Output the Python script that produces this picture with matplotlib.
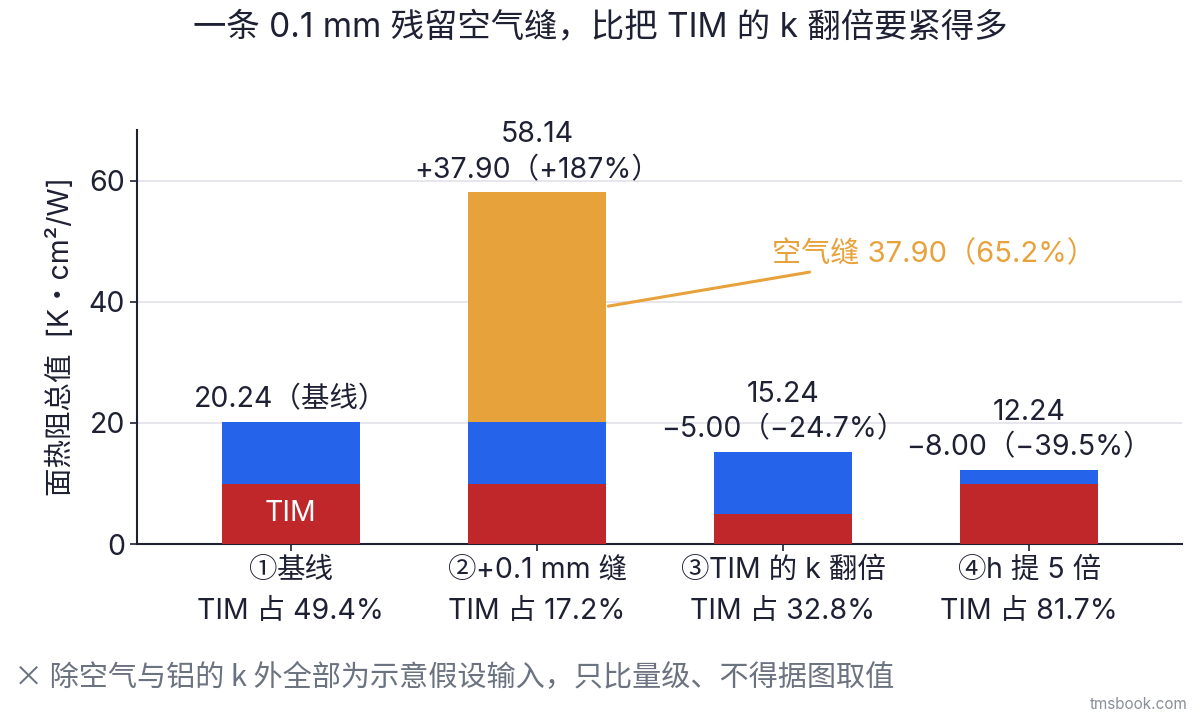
import matplotlib
matplotlib.use("Agg")
import matplotlib.pyplot as plt
from matplotlib.offsetbox import TextArea, HPacker, VPacker, AnnotationBbox
import numpy as np

plt.rcParams['font.family'] = ['Inter', 'Noto Sans CJK SC', 'DejaVu Sans']

# Data
categories = ["①基线", "②+0.1 mm 缝", "③TIM 的 k 翻倍", "④h 提 5 倍"]
tim_share = ["49.4%", "17.2%", "32.8%", "81.7%"]
tim_vals = [10.0, 10.0, 5.0, 10.0]
other_vals = [10.24, 10.24, 10.24, 2.24]
air_vals = [0.0, 37.90, 0.0, 0.0]
totals = [20.24, 58.14, 15.24, 12.24]
top_labels = ["20.24（基线）", "58.14\n+37.90（+187%）",
              "15.24\n−5.00（−24.7%）", "12.24\n−8.00（−39.5%）"]

c_tim = "#C0272A"
c_other = "#2563EB"
c_air = "#E8A23B"
c_text = "#1E2033"
c_grey = "#6B7280"
fs = 20.5

fig = plt.figure(figsize=(12, 7.2), dpi=100)
ax = fig.add_axes([0.114, 0.2444, 0.871, 0.575])

x = np.arange(len(categories))
w = 0.56
ax.bar(x, tim_vals, w, color=c_tim, zorder=3)
ax.bar(x, other_vals, w, bottom=tim_vals, color=c_other, zorder=3)
ax.bar(x, air_vals, w, bottom=np.add(tim_vals, other_vals), color=c_air, zorder=3)

# labels above bars
for xi, t, lab in zip(x, totals, top_labels):
    ax.annotate(lab, (xi, t), xytext=(0, 6), textcoords="offset points",
                ha="center", va="bottom", fontsize=fs, color=c_text,
                linespacing=1.4)

ax.text(x[0], tim_vals[0] / 2, "TIM", ha="center", va="center",
        color="white", fontsize=fs, zorder=4)

# air gap callout
air_pct = air_vals[1] / totals[1] * 100
ax.annotate(f"空气缝 {air_vals[1]:.2f}（{air_pct:.1f}%）",
            xy=(x[1] + w / 2 + 0.01, 39.3), xytext=(1.955, 45.5),
            ha="left", va="bottom", fontsize=21, color=c_air,
            arrowprops=dict(arrowstyle="-", color=c_air, lw=2.2,
                            relpos=(0.18, 0.0), shrinkA=3, shrinkB=0))

ax.set_xlim(-0.626, 3.622)
ax.set_ylim(0, 68.4)
ax.set_yticks([0, 20, 40, 60])
ax.set_xticks(x)
ax.set_xticklabels([])
ax.tick_params(axis="both", labelsize=fs, colors=c_text, length=5, width=1.2)

# x labels: circled digit from the CJK font, rest from Inter
for xi, c, s in zip(x, categories, tim_share):
    tp = dict(size=fs, color=c_text)
    circ = TextArea(c[0], textprops=dict(tp, family=['Noto Sans CJK SC']))
    rest = TextArea(c[1:], textprops=tp)
    line1 = HPacker(children=[circ, rest], align="baseline", pad=0, sep=0)
    line2 = TextArea(f"TIM 占 {s}", textprops=tp)
    box = VPacker(children=[line1, line2], align="center", pad=0, sep=9)
    ab = AnnotationBbox(box, (xi, 0), xycoords=("data", "axes fraction"),
                        xybox=(0, -8), boxcoords="offset points",
                        box_alignment=(0.5, 1), frameon=False,
                        annotation_clip=False)
    ax.add_artist(ab)

ax.set_ylabel("面热阻总值  [K・cm²/W]", fontsize=fs, color=c_text, labelpad=10)

ax.grid(axis="y", color="#E4E4EA", lw=1.3, zorder=0)
ax.set_axisbelow(True)
for s in ["top", "right"]:
    ax.spines[s].set_visible(False)
for s in ["left", "bottom"]:
    ax.spines[s].set_color(c_text)
    ax.spines[s].set_linewidth(1.5)

fig.text(0.5, 0.962, "一条 0.1 mm 残留空气缝，比把 TIM 的 k 翻倍要紧得多",
         ha="center", va="center", fontsize=24, color=c_text)
fig.text(0.012, 0.058, "× 除空气与铝的 k 外全部为示意假设输入，只比量级、不得据图取值",
         ha="left", va="center", fontsize=21, color=c_grey,
         family=['Noto Sans CJK SC', 'DejaVu Sans'])
fig.text(0.99, 0.022, "tmsbook.com", ha="right", va="center",
         fontsize=11, color="#8A8F99")

fig.savefig("out.png", dpi=100)
